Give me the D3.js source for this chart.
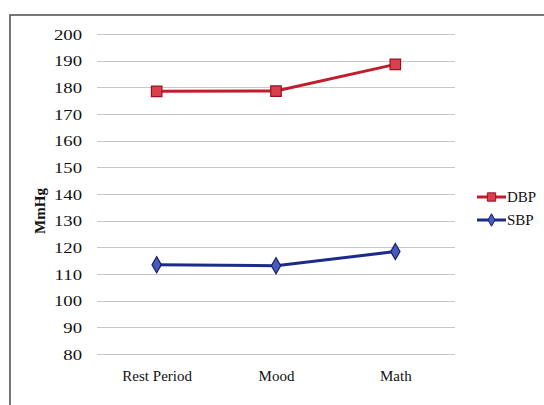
<!DOCTYPE html>
<html>
<head>
<meta charset="utf-8">
<script src="https://cdn.jsdelivr.net/npm/d3@7/dist/d3.min.js"></script>
<style>
  html, body { margin: 0; padding: 0; background: #fff; }
  svg { display: block; }
  text { font-family: "Liberation Serif", "Times New Roman", Times, serif; fill: #111; }
</style>
</head>
<body>
<svg id="chart" width="544" height="405"></svg>
<script>
// Blood pressure by condition
const categories = ["Rest Period", "Mood", "Math"];
const dbpValues = [178.5, 178.6, 188.6];
const sbpValues = [113.5, 113.1, 118.4];
const yTicks = [80, 90, 100, 110, 120, 130, 140, 150, 160, 170, 180, 190, 200];
const seriesNames = ["DBP", "SBP"];

const svg = d3.select("#chart");
const W = 544, H = 405;
const plot = { left: 97, right: 455, top: 34, bottom: 354 };

// Outer frame
svg.append("rect")
  .attr("x", 10).attr("y", 15)
  .attr("width", W + 20).attr("height", H + 20)
  .attr("fill", "none").attr("stroke", "#555").attr("stroke-width", 1.6);

const x = d3.scalePoint()
  .domain(categories)
  .range([plot.left, plot.right])
  .padding(0.5);

const y = d3.scaleLinear()
  .domain([80, 200])
  .range([plot.bottom, plot.top]);

// Horizontal gridlines
svg.append("g")
  .selectAll("line")
  .data(yTicks)
  .join("line")
  .attr("x1", plot.left).attr("x2", plot.right)
  .attr("y1", d => Math.round(y(d)) + 0.5)
  .attr("y2", d => Math.round(y(d)) + 0.5)
  .attr("stroke", "#c8c8c8")
  .attr("stroke-width", 1);

// Y axis labels (slightly widened numerals)
const yAxis = d3.axisLeft(y).tickValues(yTicks).tickSize(0).tickPadding(0);
const gy = svg.append("g")
  .attr("transform", `translate(${plot.left - 15},0)`)
  .call(yAxis);
gy.select(".domain").remove();
gy.selectAll("text")
  .attr("font-size", 15)
  .attr("fill", "#111")
  .attr("dy", "0.35em")
  .attr("transform", "scale(1.25,1)");

// X axis labels
const xAxis = d3.axisBottom(x).tickSize(0).tickPadding(0);
const gx = svg.append("g")
  .attr("transform", `translate(0,${plot.bottom + 22})`)
  .call(xAxis);
gx.select(".domain").remove();
gx.selectAll("text")
  .attr("font-size", 15)
  .attr("fill", "#111")
  .attr("dy", "0.35em");

// Y axis title
svg.append("text")
  .attr("transform", `translate(45,${(plot.top + plot.bottom) / 2 + 17}) rotate(-90)`)
  .attr("text-anchor", "middle")
  .attr("font-size", 15)
  .attr("font-weight", "bold")
  .text("MmHg");

const line = d3.line()
  .x((d, i) => x(categories[i]))
  .y(d => y(d));

const styles = {
  DBP: { stroke: "#c01e2c", fill: "#d8404e", mstroke: "#9a1020", symbol: d3.symbolSquare, size: 110 },
  SBP: { stroke: "#1c2a8c", fill: "#4a5ab8", mstroke: "#15206e", symbol: d3.symbolDiamond, size: 75 }
};

const series = [
  { name: "DBP", values: dbpValues },
  { name: "SBP", values: sbpValues }
];

series.forEach(s => {
  const st = styles[s.name];
  svg.append("path")
    .datum(s.values)
    .attr("d", line)
    .attr("fill", "none")
    .attr("stroke", st.stroke)
    .attr("stroke-width", 3);
  svg.append("g")
    .selectAll("path")
    .data(s.values)
    .join("path")
    .attr("transform", (d, i) => `translate(${x(categories[i])},${y(d)})`)
    .attr("d", d3.symbol().type(st.symbol).size(st.size))
    .attr("fill", st.fill)
    .attr("stroke", st.mstroke)
    .attr("stroke-width", 1.2);
});

// Legend
const legend = svg.append("g").attr("transform", "translate(477,197)");
seriesNames.forEach((name, i) => {
  const st = styles[name];
  const g = legend.append("g").attr("transform", `translate(0,${i * 23})`);
  g.append("line")
    .attr("x1", 0).attr("x2", 29)
    .attr("stroke", st.stroke).attr("stroke-width", 3);
  g.append("path")
    .attr("transform", "translate(14.5,0)")
    .attr("d", d3.symbol().type(st.symbol).size(name === "DBP" ? 70 : 45))
    .attr("fill", st.fill)
    .attr("stroke", st.mstroke)
    .attr("stroke-width", 1);
  g.append("text")
    .attr("x", 30).attr("dy", "0.35em")
    .attr("font-size", 15)
    .text(name);
});
</script>
</body>
</html>
